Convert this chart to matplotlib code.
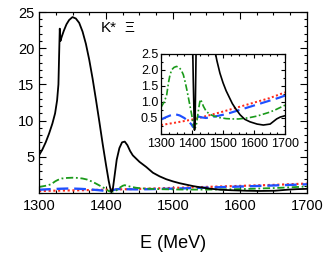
import matplotlib
matplotlib.use("Agg")
import matplotlib.pyplot as plt
from matplotlib.ticker import MultipleLocator

plt.rcParams['font.family'] = ['Liberation Sans', 'DejaVu Sans']

# black solid curve
E_black = [1300, 1305, 1310, 1315, 1320, 1324, 1327, 1329, 1330, 1331, 1332, 1334,
           1337, 1341, 1345, 1350, 1355, 1360, 1365, 1370, 1375, 1380, 1385, 1390,
           1395, 1400, 1404, 1406, 1408, 1410, 1413, 1416, 1420, 1424, 1428, 1432,
           1436, 1440, 1450, 1460, 1470, 1480, 1490, 1500, 1510, 1520, 1530, 1540,
           1555, 1570, 1587, 1610, 1630, 1652, 1673, 1685, 1700]
black = [5.2, 6.0, 7.0, 8.2, 9.6, 11.0, 12.8, 15.0, 19.0, 22.7, 21.0, 21.6,
         22.4, 23.3, 23.9, 24.3, 24.1, 23.5, 22.3, 20.6, 18.4, 15.8, 12.9, 9.9,
         6.8, 3.9, 1.7, 0.8, 0.12, 0.4, 2.5, 4.6, 6.2, 7.0, 7.1, 6.6,
         5.8, 5.2, 4.3, 3.6, 2.8, 2.3, 1.9, 1.6, 1.35, 1.15, 0.95, 0.8,
         0.6, 0.46, 0.38, 0.31, 0.28, 0.31, 0.47, 0.53, 0.57]

# green dash-dot curve
E_green = [1300, 1310, 1318, 1324, 1328, 1334, 1342, 1350, 1358, 1365, 1372, 1378,
           1384, 1390, 1395, 1399, 1404, 1408, 1411, 1415, 1420, 1425, 1428, 1432,
           1437, 1445, 1455, 1470, 1490, 1510, 1530, 1550, 1570, 1590, 1610, 1630,
           1650, 1670, 1685, 1700]
green = [0.83, 1.0, 1.2, 1.6, 1.8, 2.0, 2.08, 2.11, 2.08, 2.0, 1.85, 1.62,
         1.35, 1.05, 0.8, 0.6, 0.27, 0.18, 0.2, 0.34, 0.7, 1.0, 1.08, 0.98,
         0.86, 0.72, 0.63, 0.56, 0.51, 0.48, 0.47, 0.47, 0.49, 0.52, 0.56, 0.62,
         0.68, 0.76, 0.83, 0.9]

# blue dashed curve
E_blue = [1300, 1315, 1330, 1345, 1360, 1375, 1388, 1398, 1403, 1406, 1410, 1415,
          1420, 1430, 1445, 1460, 1480, 1500, 1520, 1540, 1560, 1580, 1600, 1620,
          1640, 1660, 1680, 1700]
blue = [0.45, 0.52, 0.58, 0.62, 0.58, 0.5, 0.4, 0.3, 0.22, 0.28, 0.4, 0.5,
        0.55, 0.52, 0.5, 0.52, 0.56, 0.6, 0.65, 0.71, 0.77, 0.83, 0.89, 0.95,
        1.01, 1.07, 1.13, 1.2]

# red dotted curve
E_red = [1300, 1350, 1400, 1450, 1500, 1550, 1600, 1650, 1700]
red = [0.28, 0.36, 0.45, 0.57, 0.7, 0.84, 0.98, 1.12, 1.3]


def draw_curves(ax, lw):
    ax.plot(E_red, red, color='#ff2a1a', ls=(0, (1, 1.2)), lw=lw * 1.2)
    ax.plot(E_blue, blue, color='#1f4fff', ls=(0, (5, 2.5)), lw=lw * 1.3)
    ax.plot(E_green, green, color='#1a9a1a', ls=(0, (4, 1.5, 1, 1.5)), lw=lw)
    ax.plot(E_black, black, color='black', lw=lw)


def style_ticks(ax, size):
    ax.tick_params(which='both', direction='in', top=True, right=True,
                   labelsize=size, width=0.8)
    ax.tick_params(which='major', length=5)
    ax.tick_params(which='minor', length=2.5)
    for s in ax.spines.values():
        s.set_linewidth(0.9)


fig = plt.figure(figsize=(3.32, 2.78), dpi=100)

ax = fig.add_axes([0.1175, 0.3058, 0.807, 0.651])
draw_curves(ax, 1.3)
ax.set_xlim(1300, 1700)
ax.set_ylim(0, 25)
ax.set_xticks([1300, 1400, 1500, 1600, 1700])
ax.set_yticks([5, 10, 15, 20, 25])
ax.xaxis.set_minor_locator(MultipleLocator(25))
ax.yaxis.set_minor_locator(MultipleLocator(1))
style_ticks(ax, 10.5)
ax.tick_params(axis='x', pad=4)
ax.set_xlabel('E (MeV)', fontsize=13, labelpad=16)
ax.text(1392, 22.3, 'K*', fontsize=11)
ax.text(1428, 22.3, 'Ξ', fontsize=11)

ins = fig.add_axes([0.485, 0.518, 0.3735, 0.288])
draw_curves(ins, 1.2)
ins.set_xlim(1300, 1700)
ins.set_ylim(0, 2.5)
ins.set_xticks([1300, 1400, 1500, 1600, 1700])
ins.set_yticks([0.5, 1.0, 1.5, 2.0, 2.5])
ins.xaxis.set_minor_locator(MultipleLocator(25))
ins.yaxis.set_minor_locator(MultipleLocator(0.25))
style_ticks(ins, 9)
ins.tick_params(which='major', length=3)
ins.tick_params(which='minor', length=1.5)
ins.tick_params(axis='x', pad=3)
ins.tick_params(axis='y', pad=2)

fig.savefig('out.png', dpi=100)
